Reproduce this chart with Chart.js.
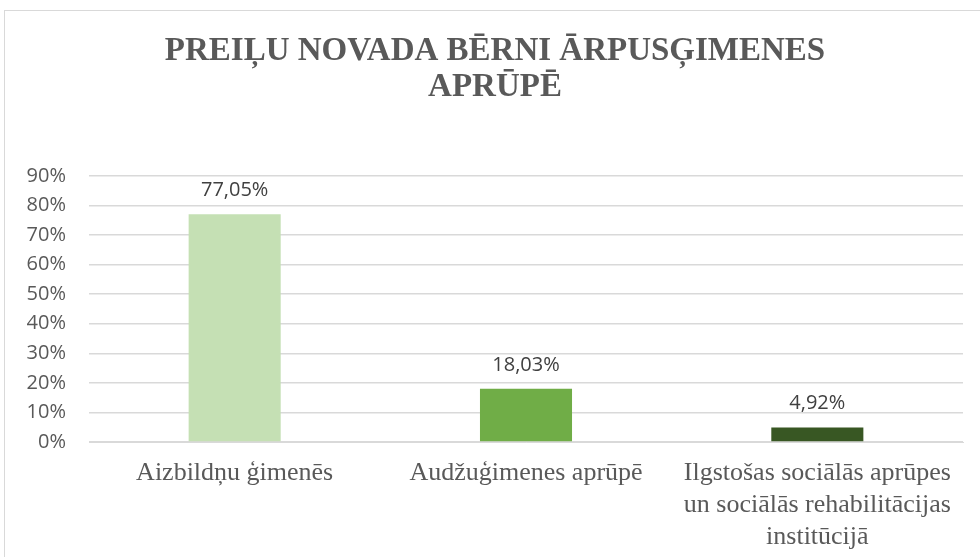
<!DOCTYPE html>
<html>
<head>
<meta charset="utf-8">
<script src="https://cdn.jsdelivr.net/npm/chart.js@4"></script>
<style>
  body { margin: 0; background: #fff; }
  #wrap { position: relative; width: 980px; height: 557px; overflow: hidden; }
  #frame { position: absolute; left: 4px; top: 10px; width: 1000px; height: 600px; border: 1px solid #d9d9d9; }
  canvas { position: absolute; left: 0; top: 0; }
</style>
</head>
<body>
<div id="wrap">
  <div id="frame"></div>
  <canvas id="bars" width="980" height="557"></canvas>
</div>
<script>
var categories = [
  "Aizbildņu ģimenēs",
  "Audžuģimenes aprūpē",
  ["Ilgstošas sociālās aprūpes", "un sociālās rehabilitācijas", "institūcijā"]
];
var shares = [77.05, 18.03, 4.92];
var barColors = ["#c5e0b4", "#70ad47", "#385723"];
var yTicks = [0, 10, 20, 30, 40, 50, 60, 70, 80, 90];

// writes the value on top of every bar
var valueLabels = {
  id: "valueLabels",
  afterDatasetsDraw: function(chart) {
    var ctx = chart.ctx;
    var meta = chart.getDatasetMeta(0);
    ctx.save();
    ctx.font = "20px 'Open Sans', 'Liberation Sans', sans-serif";
    ctx.fillStyle = "#404040";
    ctx.textAlign = "center";
    ctx.textBaseline = "alphabetic";
    meta.data.forEach(function(bar, i) {
      var txt = shares[i].toFixed(2).replace(".", ",") + "%";
      ctx.fillText(txt, bar.x, bar.y - 18);
    });
    ctx.restore();
  }
};

var ctx = document.getElementById("bars").getContext("2d");
var myChart = new Chart(ctx, {
  type: "bar",
  data: {
    labels: categories,
    datasets: [{
      data: shares,
      backgroundColor: barColors,
      barPercentage: 0.316,
      categoryPercentage: 1
    }]
  },
  options: {
    responsive: false,
    animation: false,
    layout: { padding: { left: 27, right: 17, top: 0, bottom: 0 } },
    plugins: {
      legend: { display: false },
      tooltip: { enabled: false },
      title: {
        display: true,
        text: ["PREIĻU NOVADA BĒRNI ĀRPUSĢIMENES", "APRŪPĒ"],
        color: "#595959",
        font: { family: "'Liberation Serif', 'DejaVu Serif', serif", size: 33, weight: "bold", lineHeight: 1.075 },
        padding: { top: 34, bottom: 71 }
      }
    },
    scales: {
      x: {
        grid: { display: false, drawTicks: false },
        border: { display: true, color: "#d9d9d9" },
        afterFit: function(axis) {
          axis.height = 115;
          axis.paddingLeft = 0;
          axis.paddingRight = 0;
        },
        ticks: {
          color: "#595959",
          padding: 15,
          maxRotation: 0,
          autoSkip: false,
          font: { family: "'Liberation Serif', 'DejaVu Serif', serif", size: 26, lineHeight: 1.23 }
        }
      },
      y: {
        min: 0,
        max: 90,
        afterBuildTicks: function(axis) {
          axis.ticks = yTicks.map(function(v) { return { value: v }; });
        },
        afterFit: function(axis) {
          axis.width = 62;
        },
        grid: { color: "#d9d9d9", lineWidth: 1.5, drawTicks: false },
        border: { display: false },
        ticks: {
          color: "#595959",
          padding: 23,
          font: { family: "'Open Sans', 'Liberation Sans', sans-serif", size: 20 },
          callback: function(v) { return v + "%"; }
        }
      }
    }
  },
  plugins: [valueLabels]
});
</script>
</body>
</html>
